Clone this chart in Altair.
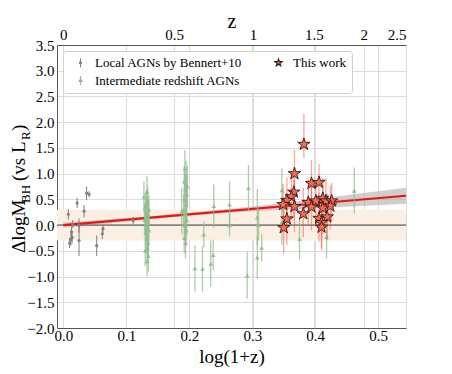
import altair as alt
import pandas as pd
import numpy as np

# ---------------- data ----------------
# Local AGNs by Bennert+10
loc_x = [0.008, 0.010, 0.012, 0.013, 0.014, 0.015, 0.022, 0.025, 0.025, 0.033, 0.037, 0.041, 0.053, 0.062, 0.063, 0.111]
loc_y = [0.21, -0.35, -0.28, -0.13, -0.24, 0.02, 0.43, -0.01, -0.30, 0.27, 0.62, 0.60, -0.40, -0.17, -0.07, 0.09]
loc_e = [0.10, 0.10, 0.12, 0.10, 0.12, 0.08, 0.10, 0.14, 0.30, 0.12, 0.13, 0.06, 0.20, 0.10, 0.08, 0.07]

# Intermediate redshift AGNs
int_x = [0.128, 0.130, 0.131, 0.132, 0.133, 0.133, 0.134, 0.134, 0.135, 0.135,
         0.136, 0.131, 0.129, 0.133, 0.134, 0.136, 0.132, 0.130, 0.135, 0.133,
         0.193, 0.195, 0.192, 0.194, 0.196, 0.193, 0.195, 0.191, 0.194, 0.196,
         0.193, 0.195, 0.192, 0.194, 0.188, 0.197,
         0.209, 0.221, 0.223, 0.234, 0.238, 0.239, 0.264, 0.264, 0.292, 0.294,
         0.308, 0.310, 0.308, 0.315, 0.347, 0.347, 0.375, 0.418, 0.462]
int_y = [0.55, 0.35, 0.15, -0.05, 0.25, -0.25, 0.45, -0.45, 0.05, -0.60,
         0.30, -0.15, 0.10, 0.65, -0.35, -0.10, 0.40, -0.50, 0.20, -0.70,
         1.10, 0.95, 0.85, 0.70, 0.60, 0.50, 0.40, 0.30, 0.20, 0.10,
         0.00, -0.10, -0.25, -0.35, 0.27, 0.75,
         -0.84, -0.85, -0.18, -0.75, -0.58, 0.37, 0.40, 0.00, -0.98, 0.72,
         0.15, 0.00, -0.63, -0.44, 0.68, 0.06, -0.27, -0.23, 0.67]
int_e = [0.30, 0.28, 0.30, 0.30, 0.28, 0.30, 0.30, 0.28, 0.30, 0.30,
         0.28, 0.30, 0.30, 0.30, 0.28, 0.30, 0.28, 0.30, 0.30, 0.30,
         0.35, 0.30, 0.30, 0.30, 0.30, 0.30, 0.30, 0.30, 0.30, 0.30,
         0.30, 0.30, 0.30, 0.30, 0.45, 0.40,
         0.45, 0.44, 0.25, 0.45, 0.30, 0.42, 0.45, 0.22, 0.45, 0.45,
         0.55, 0.30, 0.42, 0.27, 0.42, 0.45, 0.40, 0.42, 0.45]

# This work
tw_x = [0.382, 0.367, 0.394, 0.406, 0.366, 0.362, 0.355, 0.349, 0.367, 0.381, 0.389, 0.401,
        0.394, 0.412, 0.417, 0.426, 0.424, 0.412, 0.406, 0.419, 0.410, 0.410, 0.355, 0.350]
tw_y = [1.57, 1.00, 0.81, 0.83, 0.64, 0.55, 0.48, 0.40, 0.36, 0.22, 0.44, 0.47,
        0.35, 0.52, 0.47, 0.47, 0.37, 0.33, 0.13, 0.16, 0.05, -0.04, 0.12, -0.05]
tw_lo = [0.27, 0.47, 0.45, 0.50, 0.50, 0.45, 0.50, 0.45, 0.50, 0.45, 0.45, 0.50,
         0.45, 0.50, 0.45, 0.40, 0.45, 0.50, 0.45, 0.45, 0.50, 0.45, 0.50, 0.50]
tw_hi = [0.60, 0.46, 0.45, 0.35, 0.40, 0.45, 0.45, 0.40, 0.50, 0.50, 0.45, 0.40,
         0.45, 0.40, 0.45, 0.35, 0.40, 0.45, 0.50, 0.45, 0.45, 0.45, 0.50, 0.50]

# linear fit and its confidence band
fit_x = [0.0, 0.5441]
fit_y = [0.0, 0.57]
ci_x = [0.0, 0.1, 0.2, 0.3, 0.4, 0.5441]
ci_lo = [-0.05, 0.070, 0.180, 0.269, 0.329, 0.415]
ci_hi = [0.05, 0.140, 0.240, 0.359, 0.509, 0.725]

# shaded +-0.3 dex region
band_x = [-0.01, 0.5441]
band_lo = [-0.3, -0.3]
band_hi = [0.3, 0.3]

x_ticks = [0.0, 0.1, 0.2, 0.3, 0.4, 0.5]
z_ticks = [0, 0.5, 1, 1.5, 2, 2.5]
y_ticks = [-2.0, -1.5, -1.0, -0.5, 0.0, 0.5, 1.0, 1.5, 2.0, 2.5, 3.0, 3.5]

series = ["Local AGNs by Bennert+10", "Intermediate redshift AGNs", "This work"]

XDOM = [-0.01, 0.5441]
YDOM = [-2.0, 3.5]

# ---------------- tables ----------------
df_loc = pd.DataFrame({"x": loc_x, "y": loc_y, "e": loc_e})
df_loc["lo"] = df_loc.y - df_loc.e
df_loc["hi"] = df_loc.y + df_loc.e
df_int = pd.DataFrame({"x": int_x, "y": int_y, "e": int_e})
df_int["lo"] = df_int.y - df_int.e
df_int["hi"] = df_int.y + df_int.e
df_tw = pd.DataFrame({"x": tw_x, "y": tw_y, "elo": tw_lo, "ehi": tw_hi})
df_tw["lo"] = df_tw.y - df_tw.elo
df_tw["hi"] = df_tw.y + df_tw.ehi
df_fit = pd.DataFrame({"x": fit_x, "y": fit_y})
df_ci = pd.DataFrame({"x": ci_x, "lo": ci_lo, "hi": ci_hi})
df_band = pd.DataFrame({"x": band_x[:1], "x2": band_x[1:], "lo": band_lo[:1], "hi": band_hi[:1]})
df_leg = pd.DataFrame({"series": series})

FONT = "Liberation Serif"
GRID = "#dcdcdc"
xs = alt.Scale(domain=XDOM, nice=False, zero=False)
ys = alt.Scale(domain=YDOM, nice=False, zero=False)


def X(f, axis=None):
    return alt.X(f, type="quantitative", scale=xs, axis=axis, title=None)


def Y(f, axis=None):
    return alt.Y(f, type="quantitative", scale=ys, axis=axis, title=None)


bottom_axis = alt.Axis(values=x_ticks, format=".1f", title="log(1+z)", grid=True,
                       gridColor=GRID, ticks=False, labelPadding=0, labelFontSize=15,
                       titleFontSize=19, titleY=34, titleBaseline="alphabetic",
                       titleFontWeight="normal",
                       labelFont=FONT, titleFont=FONT, labelColor="black", titleColor="black",
                       domainColor="#555", labelOverlap=False)
top_axis = alt.Axis(orient="top", values=[float(np.log10(1 + z)) for z in z_ticks],
                    labelExpr="'' + (round((pow(10, datum.value) - 1) * 10) / 10)",
                    title="z", grid=True, gridColor=GRID, ticks=False, labelPadding=3,
                    labelFontSize=15, titleFontSize=20, titleY=-18, titleBaseline="alphabetic",
                    titleFontWeight="normal",
                    labelFont=FONT, titleFont=FONT, labelColor="black", titleColor="black",
                    domainColor="#555", labelOverlap=False)
left_axis = alt.Axis(values=y_ticks, format=".1f", title=None, grid=True, gridColor=GRID,
                     ticks=False, labelPadding=3, labelFontSize=15, labelFont=FONT,
                     labelColor="black", domainColor="#555", labelOverlap=False)

band = alt.Chart(df_band).mark_rect(color="#fbeee3").encode(
    x=X("x", bottom_axis), x2="x2", y=Y("lo", left_axis), y2="hi")

ci = alt.Chart(df_ci).mark_area(color="#b4b4b4", opacity=0.65).encode(
    x=X("x", top_axis), y=Y("lo"), y2="hi")

zero = alt.Chart(pd.DataFrame({"y": [0.0]})).mark_rule(color="#858585", strokeWidth=1.6).encode(
    y=Y("y"))

fit = alt.Chart(df_fit).mark_line(color="#ee1111", strokeWidth=2.2).encode(x=X("x"), y=Y("y"))

loc_err = alt.Chart(df_loc).mark_rule(color="#808080", strokeWidth=1).encode(
    x=X("x"), y=Y("lo"), y2="hi")
loc_pts = alt.Chart(df_loc).mark_point(filled=True, color="#808080", size=10, opacity=1).encode(
    x=X("x"), y=Y("y"))

int_err = alt.Chart(df_int).mark_rule(color="#8fbc8f", strokeWidth=1.3, opacity=0.75).encode(
    x=X("x"), y=Y("lo"), y2="hi")
int_pts = alt.Chart(df_int).mark_point(filled=True, shape="triangle-up", color="#8fbc8f",
                                       size=22, opacity=0.9).encode(x=X("x"), y=Y("y"))

tw_err = alt.Chart(df_tw).mark_rule(color="#ff4a3a", strokeWidth=1.3, opacity=0.5).encode(
    x=X("x"), y=Y("lo"), y2="hi")
STAR = ("M0,-1L0.2245,-0.309L0.951,-0.309L0.363,0.118L0.588,0.809L0,0.382"
        "L-0.588,0.809L-0.363,0.118L-0.951,-0.309L-0.2245,-0.309Z")
tw_pts = alt.Chart(df_tw).mark_point(filled=True, shape=STAR, fill="#f8694f", stroke="#2b1a1a",
                                     strokeWidth=0.9, size=170, opacity=1).encode(
    x=X("x"), y=Y("y"))

# legend
LOC_SYM = "M0,-1L0,1M0.24,0A0.24,0.24,0,1,1,-0.24,0A0.24,0.24,0,1,1,0.24,0Z"
INT_SYM = "M0,-1L0,1M-0.34,0.22L0.34,0.22L0,-0.38Z"
STAR_SM = ("M0,-0.85L0.19,-0.263L0.808,-0.263L0.309,0.1L0.5,0.688L0,0.325"
           "L-0.5,0.688L-0.309,0.1L-0.808,-0.263L-0.19,-0.263Z")
leg = alt.Legend(title=None, orient="none", legendX=6, legendY=6, columns=2, columnPadding=23,
                 rowPadding=3, padding=5, symbolOffset=6, labelOffset=8, labelFont=FONT,
                 labelFontSize=13, labelColor="black", symbolSize=80, symbolStrokeWidth=1.1,
                 symbolOpacity=1, fillColor="white", strokeColor="#cfcfcf", cornerRadius=3)
legend_layer = alt.Chart(df_leg).mark_point(opacity=0).encode(
    shape=alt.Shape("series:N", scale=alt.Scale(domain=series, range=[LOC_SYM, INT_SYM, STAR_SM]),
                    legend=leg),
    fill=alt.Fill("series:N", scale=alt.Scale(domain=series, range=["#808080", "#8fbc8f", "#f8694f"]),
                  legend=leg),
    stroke=alt.Stroke("series:N", scale=alt.Scale(domain=series, range=["#808080", "#8fbc8f", "#2b1a1a"]),
                      legend=leg),
)


# y axis title assembled from pieces (for subscripts)
def txt(s, size, xpix, ypix):
    return alt.Chart(pd.DataFrame({"t": [s]})).mark_text(
        font=FONT, fontSize=size, angle=270, align="left", baseline="alphabetic",
        color="black").encode(text="t:N", x=alt.value(xpix), y=alt.value(ypix))


ytitle = [
    txt("\u0394logM", 19, -32, 208),
    txt("BH", 13, -27, 158),
    txt("(vs L", 19, -32, 136),
    txt("R", 13, -27, 95),
    txt(")", 19, -32, 86),
]

chart = alt.layer(
    band, ci, zero, fit, loc_err, loc_pts, int_err, int_pts, tw_err, tw_pts, legend_layer, *ytitle
).resolve_axis(x="independent", y="independent").properties(
    width=349, height=283,
    autosize=alt.AutoSizeParams(type="none"),
    padding={"left": 49, "top": 37, "right": 30, "bottom": 42},
).configure_view(stroke="#555", strokeWidth=1).configure_axis(
    labelFont=FONT, titleFont=FONT
).configure_legend(labelFont=FONT).configure(background="white", font=FONT)

chart.save("out.html", embed_options={"renderer": "svg", "actions": False})
